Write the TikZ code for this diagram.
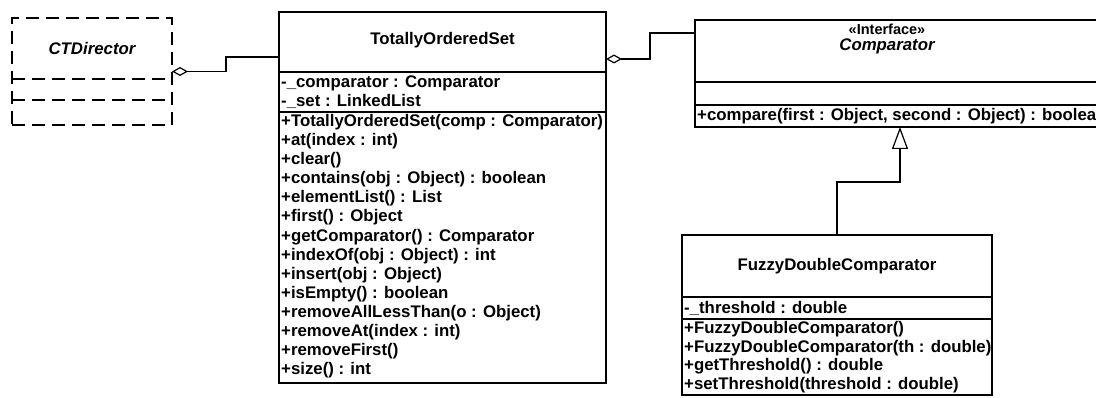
\documentclass[tikz,border=0pt]{standalone}
\usepackage{fontspec}
\setmainfont{Liberation Sans}
\usetikzlibrary{arrows.meta}
\begin{document}
\begin{tikzpicture}[x=1pt,y=-1pt,
  box/.style={draw, line width=1.5pt, anchor=north west, inner sep=0pt, outer sep=0pt},
  dbox/.style={box, dash pattern=on 13pt off 7pt},
  sepline/.style={line width=1.5pt},
  dsepline/.style={sepline, dash pattern=on 13pt off 7pt},
  umlfont/.style={font=\fontsize{16.8}{19}\selectfont\bfseries},
  title/.style={umlfont, inner sep=0pt},
  ititle/.style={title, font=\fontsize{16.8}{19}\selectfont\bfseries\itshape},
  mem/.style={umlfont, anchor=west, inner sep=0pt},
  conn/.style={line width=1.2pt},
  aggr/.style={conn, {Diamond[open,length=16pt,width=9pt]}-},
  gen/.style={conn, -{Triangle[open,length=22pt,width=16pt]}},
]
\clip (0,0) rectangle (1096,398);
\fill[white] (0,0) rectangle (1096,398);

% CTDirector (dashed)
\node[dbox, minimum width=160pt, minimum height=107pt] (ctd) at (12,18) {};
\draw[dsepline] (ctd.west |- 0,79) -- (ctd.east |- 0,79);
\draw[dsepline] (ctd.west |- 0,100) -- (ctd.east |- 0,100);
\node[ititle] (ctdt) at (92,48) {CTDirector};

% TotallyOrderedSet
\node[box, minimum width=327pt, minimum height=371pt] (tos) at (279,12) {};
\draw[sepline] (tos.west |- 0,72) -- (tos.east |- 0,72);
\draw[sepline] (tos.west |- 0,112) -- (tos.east |- 0,112);
\node[title] (tost) at (442.5,40) {TotallyOrderedSet};
\node[mem] (ta1) at (281,83) {-\_comparator : Comparator};
\node[mem] (ta2) at (281,101) {-\_set : LinkedList};
\foreach \t [count=\i] in {
  +TotallyOrderedSet(comp : Comparator),
  +at(index : int),
  +clear(),
  +contains(obj : Object) : boolean,
  +elementList() : List,
  +first() : Object,
  +getComparator() : Comparator,
  +indexOf(obj : Object) : int,
  +insert(obj : Object),
  +isEmpty() : boolean,
  +removeAllLessThan(o : Object),
  +removeAt(index : int),
  +removeFirst(),
  +size() : int}
  \node[mem] (tm\i) at (281,103+19.1*\i) {\t};

% Comparator interface
\node[box, minimum width=420pt, minimum height=107pt] (cmp) at (695,20) {};
\draw[sepline] (cmp.west |- 0,82) -- (cmp.east |- 0,82);
\draw[sepline] (cmp.west |- 0,105) -- (cmp.east |- 0,105);
\node[title, font=\fontsize{14.5}{17}\selectfont\bfseries] (cmps) at (887,29) {«Interface»};
\node[ititle] (cmpt) at (887,46) {Comparator};
\node[mem] (cm1) at (697,116.5) {+compare(first : Object, second : Object) : boolean};

% FuzzyDoubleComparator
\node[box, minimum width=310pt, minimum height=160pt] (fdc) at (682,235) {};
\draw[sepline] (fdc.west |- 0,297) -- (fdc.east |- 0,297);
\draw[sepline] (fdc.west |- 0,319) -- (fdc.east |- 0,319);
\node[title] (fdct) at (837,266) {FuzzyDoubleComparator};
\node[mem] (fa1) at (684,308.5) {-\_threshold : double};
\node[mem] (fm1) at (684,329.5) {+FuzzyDoubleComparator()};
\node[mem] (fm2) at (684,348) {+FuzzyDoubleComparator(th : double)};
\node[mem] (fm3) at (684,366.5) {+getThreshold() : double};
\node[mem] (fm4) at (684,385) {+setThreshold(threshold : double)};

% connectors
\coordinate (tosin) at (tos.west |- 0,57);
\coordinate (tosout) at (tos.east |- 0,59);
\coordinate (cmpin) at (cmp.west |- 0,33);
\coordinate (cmpgen) at (cmp.south -| 900,0);
\draw[aggr] (ctd.east) -- ++(54,0) |- (tosin);
\draw[aggr] (tosout) -- ++(44,0) |- (cmpin);
\draw[gen] (fdc.north) -- ++(0,-53) -| (cmpgen);
\end{tikzpicture}
\end{document}
